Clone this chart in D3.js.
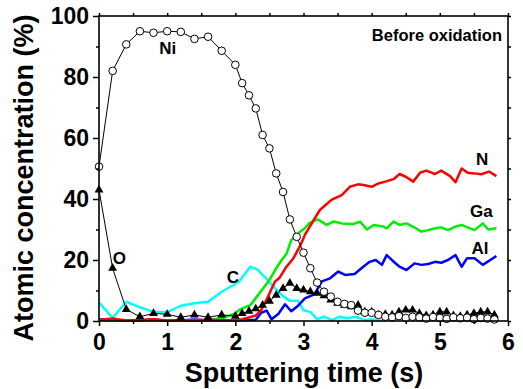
<!DOCTYPE html>
<html>
<head>
<meta charset="utf-8">
<script src="https://cdn.jsdelivr.net/npm/d3@7"></script>
<style>
  body { margin: 0; background: #fff; }
  svg { display: block; font-family: "Liberation Sans", Arial, sans-serif; font-weight: bold; }
</style>
</head>
<body>
<div id="chart"></div>
<script>
// sampling times for the Ni / O marker series (s)
const timesNiO = [0, 0.2, 0.4, 0.6, 0.8, 1.0, 1.2, 1.4, 1.6, 1.8, 2.0,
  2.1, 2.2, 2.3, 2.4, 2.5, 2.6, 2.7, 2.8, 2.9, 3.0, 3.1, 3.2, 3.3, 3.4, 3.5,
  3.6, 3.7, 3.8, 3.9, 4.0, 4.1, 4.2, 4.3, 4.4, 4.5, 4.6, 4.7, 4.8, 4.9, 5.0,
  5.1, 5.2, 5.3, 5.4, 5.5, 5.6, 5.7, 5.8];

const valuesNi = [50.6, 82, 90.7, 95, 94.5, 95, 94.8, 92.5, 93.2, 88.6, 84,
  78, 74, 69.7, 61, 56.6, 48.4, 42.3, 33.3, 27.6, 22.4, 17.3, 12.6, 9.6, 8, 6.3,
  5.6, 5.2, 3.4, 2.7, 2.7, 2, 1.4, 1.2, 1.6, 1.0, 1.4, 1.2, 0.8, 1.3, 1.0,
  0.7, 1.2, 0.9, 1.1, 0.6, 1.0, 0.8, 0.5];

const valuesO = [43, 17.3, 3.8, 1.4, 2.5, 2.2, 1.2, 2, 1.2, 2, 1.6,
  2.5, 3.2, 4, 5.2, 6.5, 8.5, 10.7, 12.4, 10.7, 10.2, 9.6, 9.1, 8.3, 6.9, 5.8,
  5.2, 4.7, 5.2, 3, 3, 2, 2.2, 2, 3, 3.6, 3.6, 2.5, 1.8, 2, 3,
  3, 1.8, 1.5, 2, 2.5, 3, 3, 2];

// line series as [time, %] pairs
const seriesC = [[0, 6], [0.2, 1], [0.4, 6.3], [0.6, 4.5], [0.8, 3], [1.0, 2.8], [1.2, 5],
  [1.4, 5.8], [1.6, 6.3], [1.8, 9.6], [2.05, 12.8], [2.22, 17.8], [2.33, 16.8], [2.43, 14.5],
  [2.56, 11.3], [2.68, 8.5], [2.8, 6.6], [2.92, 6.6], [3.0, 3.5], [3.1, 3], [3.2, 0.6],
  [3.3, 1.4], [3.42, 0.3], [3.53, 1.4], [3.64, 0.9], [3.77, 1.4], [3.9, 0.3], [4.0, 0.6],
  [4.15, 0]];

const seriesAl = [[0, 0.6], [0.2, 0.3], [0.4, 0.1], [0.6, 0.2], [0.8, 0.5], [1.0, 0.1], [1.2, 0.2],
  [1.4, 0.5], [1.6, 0.2], [1.8, 0.3], [2.0, 0.2], [2.2, 0.3], [2.3, 0.4], [2.38, 2.7],
  [2.46, 3.4], [2.53, 0.6], [2.63, 2.3], [2.73, 5.5], [2.82, 3.2], [2.92, 5], [3.02, 7.4],
  [3.16, 8.7], [3.27, 13], [3.39, 14], [3.51, 16.2], [3.61, 15.1], [3.75, 15.4], [3.85, 17.3],
  [3.97, 19.4], [4.06, 20], [4.15, 18.4], [4.22, 21.6], [4.34, 19.1], [4.41, 17.8], [4.51, 16.7],
  [4.63, 18.9], [4.73, 18.4], [4.83, 18.7], [4.93, 19.4], [5.02, 19.1], [5.12, 20], [5.23, 21.6],
  [5.32, 17.8], [5.4, 20.6], [5.51, 20.6], [5.63, 18.4], [5.83, 21.3]];

const seriesN = [[0, 0.3], [0.2, 0.8], [0.4, 0.2], [0.6, 0.3], [0.8, 0.6], [1.0, 0.2], [1.2, 0.3],
  [1.4, 0.2], [1.6, 0.5], [1.8, 0.2], [2.0, 0.3], [2.1, 0.6], [2.2, 1.2], [2.3, 1.8],
  [2.38, 3.6], [2.48, 8], [2.58, 12.9], [2.65, 14.2], [2.75, 17.8], [2.85, 20.5], [2.95, 24.6],
  [3.02, 28.2], [3.09, 30.9], [3.24, 36.4], [3.41, 39.7], [3.56, 41.3], [3.68, 44], [3.8, 44.8],
  [3.88, 44.6], [4.0, 44], [4.1, 45.1], [4.2, 45.7], [4.32, 46.5], [4.41, 48.2], [4.5, 47.3],
  [4.61, 45.7], [4.71, 48.6], [4.8, 49.3], [4.93, 48.2], [5.02, 49.3], [5.15, 47.5], [5.23, 45.5],
  [5.32, 50], [5.41, 48.6], [5.51, 48.4], [5.61, 48.1], [5.72, 49], [5.83, 47.5]];

const seriesGa = [[0, 0.3], [0.2, 0.1], [0.4, 0.2], [0.6, 0.1], [0.8, 0.2], [1.0, 0.1], [1.2, 0.2],
  [1.4, 0.2], [1.6, 0.3], [1.8, 0.9], [1.98, 2.3], [2.07, 3.8], [2.14, 4.5], [2.22, 5.2],
  [2.3, 7.5], [2.39, 10.2], [2.51, 13.8], [2.6, 17.3], [2.68, 20], [2.75, 22], [2.82, 26.5],
  [2.93, 28.9], [3.02, 30.4], [3.09, 32.2], [3.21, 33.3], [3.34, 31.5], [3.44, 32.6], [3.56, 32],
  [3.73, 31.8], [3.83, 32.6], [3.93, 30], [4.03, 31.5], [4.17, 31], [4.22, 30.4], [4.32, 32.6],
  [4.41, 31.5], [4.51, 32], [4.61, 30.9], [4.73, 29.3], [4.83, 29.8], [4.93, 30.4], [5.02, 30.7],
  [5.12, 29.8], [5.22, 30.9], [5.32, 31.5], [5.41, 30.7], [5.51, 29.8], [5.63, 32], [5.71, 30],
  [5.83, 30.4]];

const lineSeries = [
  { name: "C", data: seriesC, color: "#00ffff" },
  { name: "Al", data: seriesAl, color: "#0000ff" },
  { name: "Ga", data: seriesGa, color: "#00ee00" },
  { name: "N", data: seriesN, color: "#ff0000" }
];

const labels = [
  { text: "Ni", t: 1.01, v: 89.5 },
  { text: "O", t: 0.3, v: 20.5 },
  { text: "C", t: 1.965, v: 14.3 },
  { text: "N", t: 5.62, v: 52.8 },
  { text: "Ga", t: 5.61, v: 35.8 },
  { text: "Al", t: 5.59, v: 23.8 }
];

const xMajor = [0, 1, 2, 3, 4, 5, 6];
const xMinor = [0.5, 1.5, 2.5, 3.5, 4.5, 5.5];
const yMajor = [0, 20, 40, 60, 80, 100];
const yMinor = [10, 30, 50, 70, 90];

const W = 523, H = 389;
const margin = { left: 99, right: 15, top: 16, bottom: 68 };

const svg = d3.select("#chart").append("svg")
  .attr("width", W).attr("height", H);

const x = d3.scaleLinear().domain([0, 6]).range([margin.left, W - margin.right]);
const y = d3.scaleLinear().domain([0, 100]).range([H - margin.bottom, margin.top]);

// coloured lines
const line = d3.line().x(d => x(d[0])).y(d => y(d[1]));
lineSeries.forEach(s => {
  svg.append("path")
    .datum(s.data)
    .attr("fill", "none")
    .attr("stroke", s.color)
    .attr("stroke-width", 2.5)
    .attr("stroke-linejoin", "round")
    .attr("d", line);
});

// Ni and O
const niData = timesNiO.map((t, i) => [t, valuesNi[i]]);
const oData = timesNiO.map((t, i) => [t, valuesO[i]]);

[oData, niData].forEach(data => {
  svg.append("path")
    .datum(data)
    .attr("fill", "none")
    .attr("stroke", "#000")
    .attr("stroke-width", 1)
    .attr("d", line);
});

svg.append("g").selectAll("path")
  .data(oData)
  .join("path")
  .attr("transform", d => `translate(${x(d[0])},${y(d[1])})`)
  .attr("d", d3.symbol(d3.symbolTriangle, 34))
  .attr("fill", "#000");

svg.append("g").selectAll("circle")
  .data(niData)
  .join("circle")
  .attr("cx", d => x(d[0]))
  .attr("cy", d => y(d[1]))
  .attr("r", 3.8)
  .attr("fill", "#fff")
  .attr("stroke", "#000")
  .attr("stroke-width", 1);

// axes
const bottom = H - margin.bottom, right = W - margin.right;

function styleAxis(g) {
  g.select(".domain").remove();
  g.selectAll("line").attr("stroke", "#000").attr("stroke-width", 1.5);
}

svg.append("g").attr("transform", `translate(0,${bottom})`)
  .call(d3.axisBottom(x).tickValues(xMajor).tickSize(5).tickPadding(8).tickFormat(d3.format("d")))
  .call(styleAxis)
  .call(g => g.selectAll("text").attr("font-size", 23).attr("font-weight", "bold")
    .attr("font-family", "Liberation Sans, Arial, sans-serif").attr("fill", "#000"));
svg.append("g").attr("transform", `translate(0,${bottom})`)
  .call(d3.axisBottom(x).tickValues(xMinor).tickSize(3).tickFormat(""))
  .call(styleAxis);

svg.append("g").attr("transform", `translate(${margin.left},0)`)
  .call(d3.axisLeft(y).tickValues(yMajor).tickSize(6).tickPadding(4).tickFormat(d3.format("d")))
  .call(styleAxis)
  .call(g => g.selectAll("text").attr("font-size", 23).attr("font-weight", "bold")
    .attr("font-family", "Liberation Sans, Arial, sans-serif").attr("fill", "#000"));
svg.append("g").attr("transform", `translate(${margin.left},0)`)
  .call(d3.axisLeft(y).tickValues(yMinor).tickSize(3).tickFormat(""))
  .call(styleAxis);

svg.append("g").attr("transform", `translate(0,${margin.top})`)
  .call(d3.axisTop(x).tickValues(xMajor.concat(xMinor)).tickSize(3).tickFormat(""))
  .call(styleAxis);
svg.append("g").attr("transform", `translate(${right},0)`)
  .call(d3.axisRight(y).tickValues(yMajor.concat(yMinor)).tickSize(3).tickFormat(""))
  .call(styleAxis);

svg.append("rect")
  .attr("x", margin.left).attr("y", margin.top)
  .attr("width", right - margin.left).attr("height", bottom - margin.top)
  .attr("fill", "none").attr("stroke", "#000").attr("stroke-width", 1.6);

// series labels
svg.append("g").selectAll("text")
  .data(labels)
  .join("text")
  .attr("x", d => x(d.t))
  .attr("y", d => y(d.v))
  .attr("text-anchor", "middle")
  .attr("dominant-baseline", "central")
  .attr("font-size", 17)
  .text(d => d.text);

svg.append("text")
  .attr("x", 502).attr("y", 41)
  .attr("text-anchor", "end")
  .attr("font-size", 16.5)
  .text("Before oxidation");

// axis titles
svg.append("text")
  .attr("x", 304).attr("y", 382)
  .attr("text-anchor", "middle")
  .attr("font-size", 27)
  .text("Sputtering time (s)");

svg.append("text")
  .attr("transform", "translate(33,178) rotate(-90)")
  .attr("text-anchor", "middle")
  .attr("font-size", 27)
  .text("Atomic concentration (%)");
</script>
</body>
</html>
